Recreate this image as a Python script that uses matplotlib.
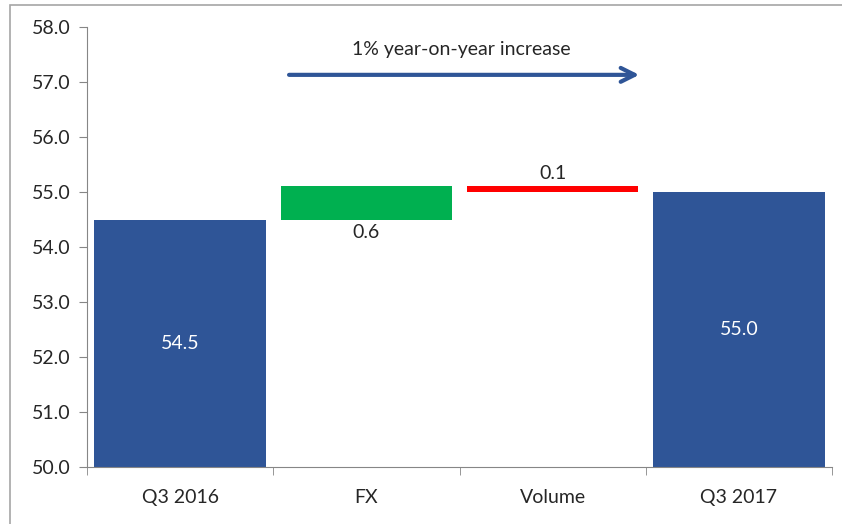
import matplotlib.pyplot as plt
from matplotlib.patches import Rectangle

# waterfall data
categories = ["Q3 2016", "FX", "Volume", "Q3 2017"]
bottoms = [50.0, 54.5, 55.0, 50.0]
tops = [54.5, 55.1, 55.1, 55.0]
labels = ["54.5", "0.6", "0.1", "55.0"]
colors = ["#2F5597", "#00B050", "#FF0000", "#2F5597"]

plt.rcParams['font.family'] = ['Lato', 'DejaVu Sans']

fig = plt.figure(figsize=(8.42, 5.24), dpi=100)
ax = fig.add_axes([87/842, 1-467/524, (832-87)/842, (467-27)/524])

x = range(len(categories))
heights = [t - b for t, b in zip(tops, bottoms)]
ax.bar(x, heights, bottom=bottoms, width=0.92, color=colors)

# value labels
fs = 14
ax.text(0, (bottoms[0] + tops[0]) / 2, labels[0], ha='center', va='center', color='white', fontsize=fs)
ax.text(3, (bottoms[3] + tops[3]) / 2, labels[3], ha='center', va='center', color='white', fontsize=fs)
ax.text(1, bottoms[1] - 0.08, labels[1], ha='center', va='top', color='#262626', fontsize=fs)
ax.text(2, tops[2] + 0.08, labels[2], ha='center', va='bottom', color='#262626', fontsize=fs)

# arrow annotation
ax.annotate("", xy=(2.48, 57.13), xytext=(0.57, 57.13),
            arrowprops=dict(arrowstyle='->', color='#2F5597', lw=3, mutation_scale=25))
ax.text(1.51, 57.6, "1% year-on-year increase", ha='center', va='center', fontsize=fs, color='#262626')

ax.set_xlim(-0.5, 3.5)
ax.set_ylim(50, 58)
ax.set_yticks([50 + i for i in range(9)])
ax.set_yticklabels([f"{50 + i:.1f}" for i in range(9)])
ax.set_xticks(list(x))
ax.set_xticklabels(categories)
ax.set_xticks([-0.5, 0.5, 1.5, 2.5, 3.5], minor=True)
ax.tick_params(axis='x', which='major', length=0, pad=16, labelsize=fs, labelcolor='#262626')
ax.tick_params(axis='x', which='minor', length=6, color='#868686')
ax.tick_params(axis='y', length=6, color='#868686', labelsize=fs, labelcolor='#262626', pad=6)

for s in ['top', 'right']:
    ax.spines[s].set_visible(False)
for s in ['left', 'bottom']:
    ax.spines[s].set_color('#868686')

# outer frame of the chart
fig.patches.append(Rectangle((10/842, -0.1), 1.0, 1 - 5/524 + 0.1, transform=fig.transFigure,
                             fill=False, edgecolor='#A6A6A6', lw=1.2))

plt.savefig("out.png")
